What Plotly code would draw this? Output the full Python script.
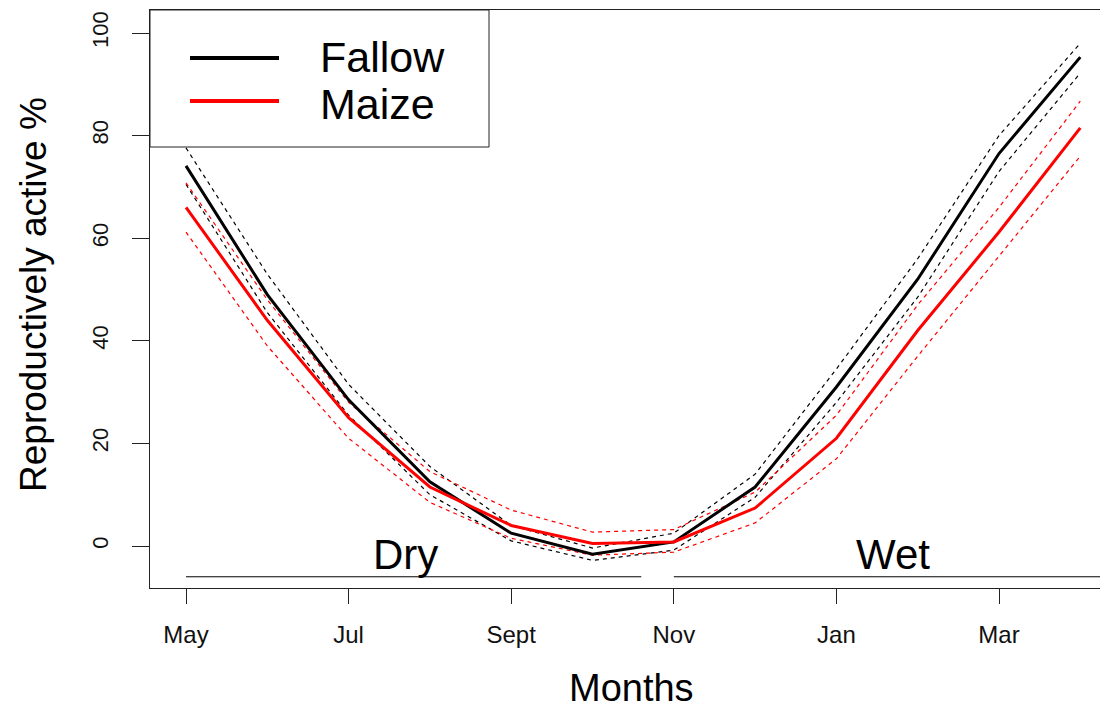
import plotly.graph_objects as go

# ---- data ----
months = ["May", "Jun", "Jul", "Aug", "Sep", "Oct", "Nov", "Dec", "Jan", "Feb", "Mar", "Apr"]
month_pos = list(range(len(months)))
tick_pos = [0, 2, 4, 6, 8, 10]
tick_labels = ["May", "Jul", "Sept", "Nov", "Jan", "Mar"]
y_ticks = [0, 20, 40, 60, 80, 100]

fallow_mean = [74.1, 49.0, 28.5, 12.5, 2.5, -1.6, 0.8, 11.5, 31.0, 52.0, 76.5, 95.3]
fallow_upper = [77.6, 53.0, 31.5, 15.5, 4.0, -0.4, 2.5, 14.0, 34.5, 56.0, 80.0, 98.0]
fallow_lower = [70.5, 45.5, 25.5, 10.0, 1.0, -2.8, -0.8, 9.5, 28.0, 48.5, 73.0, 92.2]
maize_mean = [66.0, 44.0, 25.0, 11.5, 4.0, 0.5, 0.8, 7.4, 21.0, 42.0, 61.2, 81.5]
maize_upper = [70.8, 48.0, 28.0, 14.5, 7.0, 2.7, 3.2, 10.5, 25.5, 47.0, 66.0, 86.7]
maize_lower = [61.2, 39.0, 21.0, 8.5, 1.5, -1.8, -1.2, 4.5, 17.0, 37.0, 56.5, 76.0]

seasons = ["Dry", "Wet"]
season_start = [0, 6]
season_end = [5.6, 11.25]
season_label_x = [2.7, 8.7]
season_level = -6

# ---- figure geometry (page has an 8px body margin) ----
OFF = 8
W, H = 1108 - OFF, 709 - OFF
PL, PR, PT, PB = 150, 1106, 10, 588   # plot box in page pixels
L, T = PL - OFF, PT - OFF
R, B = (1108 - PR), (709 - PB)
PW, PH = PR - PL, PB - PT

def px2x(px):
    return (px - PL) / PW

def py2y(py):
    return (PB - py) / PH

FONT = "Liberation Sans, Arial, sans-serif"
dash = "4px,4px"

fig = go.Figure()
series = [
    (fallow_upper, "black", 1.2, dash),
    (fallow_lower, "black", 1.2, dash),
    (maize_upper, "red", 1.2, dash),
    (maize_lower, "red", 1.2, dash),
    (fallow_mean, "black", 3, "solid"),
    (maize_mean, "red", 3, "solid"),
]
for vals, col, w, d in series:
    fig.add_trace(go.Scatter(x=month_pos, y=vals, mode="lines",
                             line=dict(color=col, width=w, dash=d),
                             showlegend=False, hoverinfo="skip"))

shapes = []
annotations = []
for name, s, e, lx in zip(seasons, season_start, season_end, season_label_x):
    shapes.append(dict(type="line", xref="x", yref="y", x0=s, x1=e,
                       y0=season_level, y1=season_level,
                       line=dict(color="black", width=1)))
    annotations.append(dict(xref="x", yref="y", x=lx, y=season_level + 4.4,
                            text=name, showarrow=False,
                            font=dict(family=FONT, size=42, color="black"),
                            xanchor="center", yanchor="middle"))

# legend box (manual, R-style)
shapes.append(dict(type="rect", xref="paper", yref="paper",
                   x0=px2x(150), x1=px2x(489), y0=py2y(147), y1=py2y(10),
                   line=dict(color="#222", width=1), fillcolor="white", layer="above"))
for name, col, py, ty in [("Fallow", "black", 58, 57), ("Maize", "red", 101, 104)]:
    shapes.append(dict(type="line", xref="paper", yref="paper",
                       x0=px2x(190), x1=px2x(279), y0=py2y(py), y1=py2y(py),
                       line=dict(color=col, width=4), layer="above"))
    annotations.append(dict(xref="paper", yref="paper", x=px2x(318), y=py2y(ty),
                            text=name, showarrow=False,
                            font=dict(family=FONT, size=43, color="black"),
                            xanchor="left", yanchor="middle"))

# axis titles
annotations.append(dict(xref="paper", yref="paper", x=px2x(631), y=py2y(688),
                        text="Months", showarrow=False,
                        font=dict(family=FONT, size=38, color="black"),
                        xanchor="center", yanchor="middle"))
annotations.append(dict(xref="paper", yref="paper", x=px2x(33), y=py2y(295),
                        text="Reproductively active %", showarrow=False, textangle=-90,
                        font=dict(family=FONT, size=37, color="black"),
                        xanchor="center", yanchor="middle"))

fig.update_layout(
    width=W, height=H,
    margin=dict(l=L, r=R, t=T, b=B, autoexpand=False),
    paper_bgcolor="white", plot_bgcolor="white",
    shapes=shapes, annotations=annotations,
    showlegend=False,
    xaxis=dict(range=[-36 / 81.3, (PR - 186) / 81.3], tickvals=tick_pos, ticktext=tick_labels,
               showgrid=False, zeroline=False, showline=True, linecolor="#222", linewidth=1,
               mirror=True, ticks="outside", ticklen=15, tickcolor="#222", tickwidth=1,
               tickfont=dict(family=FONT, size=24, color="#111"), ticklabelstandoff=10),
    yaxis=dict(range=[(546 - PB) / 5.13, (546 - PT) / 5.13], tickvals=y_ticks,
               showgrid=False, zeroline=False, showline=True, linecolor="#222", linewidth=1,
               mirror=True, ticks="outside", ticklen=17, tickcolor="#222", tickwidth=1,
               tickangle=-90, tickfont=dict(family=FONT, size=22, color="#111"),
               ticklabelstandoff=15),
)

fig.write_html("out.html")
